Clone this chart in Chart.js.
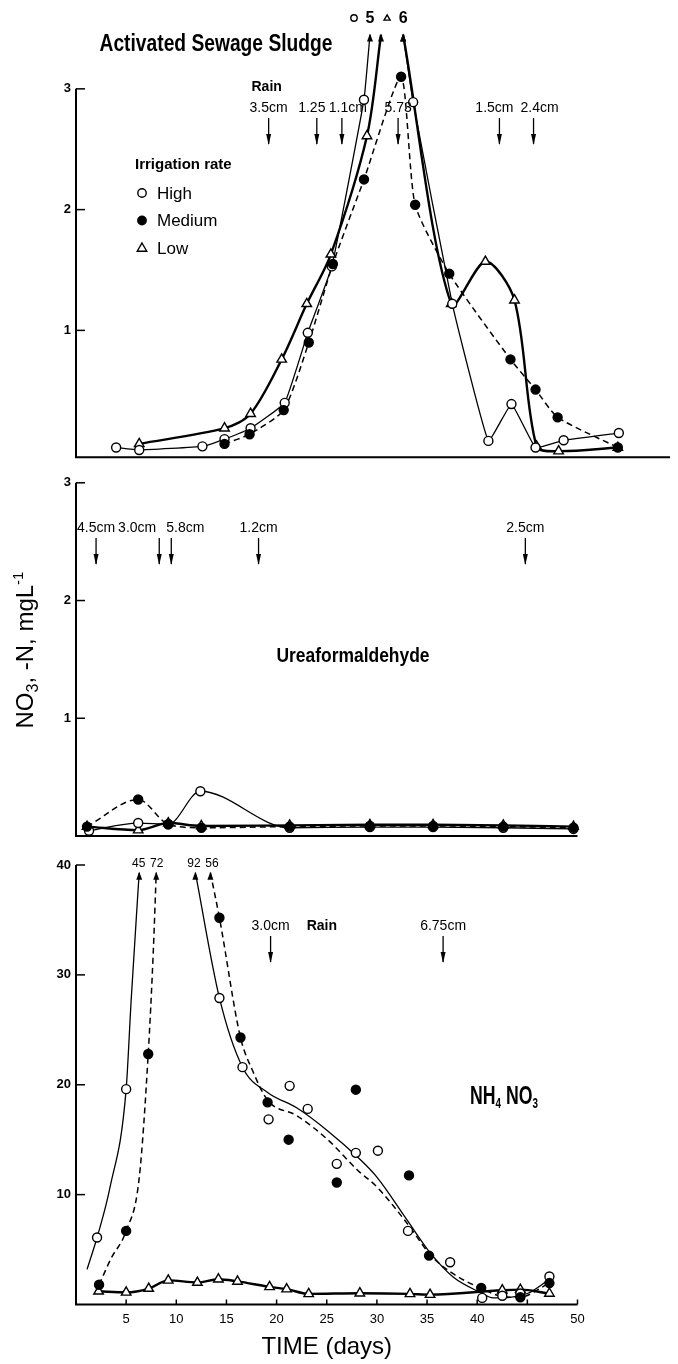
<!DOCTYPE html>
<html>
<head>
<meta charset="utf-8">
<title>NO3-N in leachate</title>
<script src="https://cdn.jsdelivr.net/npm/chart.js@4.4.1/dist/chart.umd.min.js"></script>
<style>
  html, body { margin: 0; padding: 0; background: #fff; }
  #page { position: relative; width: 678px; height: 1364px; overflow: hidden; }
  #page canvas { position: absolute; left: 0; }
</style>
</head>
<body>
<div id="page">
  <canvas id="sludge" width="678" height="470" style="top:0px"></canvas>
  <canvas id="urea" width="678" height="380" style="top:470px"></canvas>
  <canvas id="nitrate" width="678" height="514" style="top:850px"></canvas>
</div>
<script>
// ---- Activated sewage sludge (top panel) ----
var sludgeHighDays = [4.0, 6.3, 12.6, 14.8, 17.4, 20.8, 23.1, 25.5, 28.7, 29.3, 32.6, 33.6, 37.5, 41.1, 43.4, 45.8, 48.6, 54.1];
var sludgeHigh     = [0.03, 0.01, 0.04, 0.10, 0.19, 0.40, 0.98, 1.53, 2.91, 5, 5, 2.89, 1.22, 0.085, 0.39, 0.03, 0.09, 0.15];
var sludgeMedDays  = [14.8, 17.3, 20.7, 23.2, 25.6, 28.7, 32.4, 33.8, 37.2, 43.3, 45.8, 48.0, 54.0];
var sludgeMed      = [0.06, 0.14, 0.34, 0.90, 1.55, 2.25, 3.10, 2.04, 1.47, 0.76, 0.51, 0.28, 0.03];
var sludgeLowDays  = [6.3, 14.8, 17.4, 20.5, 23.0, 25.4, 29.0, 30.4, 32.6, 37.4, 40.8, 43.7, 45.9, 48.1, 54.0];
var sludgeLow      = [0.06, 0.19, 0.31, 0.76, 1.22, 1.63, 2.61, 6, 6, 1.22, 1.57, 1.25, 0.04, 0.0, 0.03];
var sludgeRainDays   = [19.2, 24.0, 26.5, 32.1, 42.2, 45.6];
var sludgeRainLabels = ['3.5cm', '1.25', '1.1cm', '5.73', '1.5cm', '2.4cm'];
var sludgeTicks = [1, 2, 3];

// ---- Ureaformaldehyde (middle panel) ----
var ureaHighDays = [1.3, 6.2, 9.2, 12.4, 21.3, 29.3, 35.6, 42.6, 49.6];
var ureaHigh     = [0.045, 0.11, 0.10, 0.38, 0.07, 0.075, 0.075, 0.07, 0.06];
var ureaMedDays  = [1.1, 6.2, 9.2, 12.5, 21.3, 29.3, 35.6, 42.6, 49.6];
var ureaMed      = [0.08, 0.31, 0.10, 0.07, 0.08, 0.085, 0.085, 0.08, 0.07];
var ureaLowDays  = [1.1, 6.2, 9.2, 12.5, 21.3, 29.3, 35.6, 42.6, 49.6];
var ureaLow      = [0.08, 0.05, 0.11, 0.085, 0.09, 0.095, 0.095, 0.09, 0.08];
var ureaRainDays   = [2.0, 8.3, 9.5, 18.2, 44.8];
var ureaRainLabels = ['4.5cm', '3.0cm', '5.8cm', '1.2cm', '2.5cm'];
var ureaTicks = [1, 2, 3];

// ---- NH4NO3 (bottom panel): measured points and fitted curves ----
var nhHighPtDays = [2.1, 5.0, 14.3, 16.6, 19.2, 21.3, 23.1, 26.0, 27.9, 30.1, 33.1, 37.3, 40.5, 42.5, 44.3, 47.2];
var nhHighPts    = [6.1, 19.6, 27.9, 21.6, 16.85, 19.9, 17.8, 12.8, 13.8, 14.0, 6.7, 3.85, 0.6, 0.8, 1.0, 2.55];
var nhHighCurveDays = [1.1, 2.1, 3.4, 5.0, 5.5, 6.3, 11.9, 14.3, 16.6, 19.1, 22.0, 25.1, 28.1, 30.0, 33.0, 35.4, 37.6, 40.3, 41.6, 45.0, 47.2];
var nhHighCurve     = [3.2, 6.1, 10.7, 19.6, 27.7, 45, 92, 27.9, 21.6, 19.3, 17.9, 15.8, 13.4, 11.6, 7.7, 4.6, 2.5, 1.1, 0.6, 1.0, 2.3];
var nhMedPtDays = [2.3, 5.0, 7.2, 14.3, 16.4, 19.1, 21.2, 26.0, 27.9, 33.2, 35.2, 40.4, 44.3, 47.2];
var nhMedPts    = [1.8, 6.7, 22.8, 35.2, 24.3, 18.4, 15.0, 11.1, 19.55, 11.75, 4.45, 1.5, 0.66, 1.95];
var nhMedCurveDays = [2.3, 3.5, 5.0, 6.3, 7.2, 7.7, 8.0, 13.4, 14.3, 16.4, 17.6, 19.1, 22.0, 25.1, 28.1, 30.0, 33.0, 35.4, 37.6, 40.3, 42.2, 44.2, 47.2];
var nhMedCurve     = [1.8, 4.2, 6.7, 11.5, 22.8, 32, 72, 56, 35.2, 24.3, 21.3, 18.6, 17.2, 15.0, 12.2, 10.7, 7.4, 4.45, 2.8, 1.5, 0.8, 0.66, 1.95];
var nhLowDays = [2.25, 5.0, 7.25, 9.2, 12.1, 14.2, 16.1, 19.3, 21.0, 23.2, 28.3, 33.3, 35.3, 42.5, 44.3, 47.2];
var nhLow     = [1.2, 1.1, 1.45, 2.2, 2.0, 2.3, 2.1, 1.6, 1.4, 0.97, 1.03, 0.97, 0.9, 1.3, 1.35, 1.0];
var nhRainDays   = [19.4, 36.6];
var nhRainLabels = ['3.0cm', '6.75cm'];
var nhTicks   = [10, 20, 30, 40];
var timeTicks = [5, 10, 15, 20, 25, 30, 35, 40, 45, 50];

var FONT = '"Liberation Sans", "Helvetica Neue", Arial, sans-serif';
Chart.defaults.font.family = FONT;
Chart.defaults.color = '#000';

var STYLE = {
  high: { shape: 'circle', fill: '#fff', r: 4.5, w: 1.3, dash: [] },
  med:  { shape: 'circle', fill: '#000', r: 4.5, w: 1.5, dash: [6, 4] },
  low:  { shape: 'triangle', fill: '#fff', r: 5.5, w: 2.4, dash: [] }
};

function toPoints(days, vals) {
  return days.map(function (d, i) { return { x: d, y: vals[i] }; });
}

// off-scale values end in an arrow at the clamp level; two in a row leave a gap
function clampLine(days, vals, clamp) {
  var out = [];
  for (var i = 0; i < days.length; i++) {
    var off = vals[i] > clamp;
    if (off && i > 0 && vals[i - 1] > clamp) out.push({ x: (days[i - 1] + days[i]) / 2, y: null });
    out.push({ x: days[i], y: off ? clamp : vals[i] });
  }
  return out;
}

function peakMarks(days, vals, clamp, at) {
  var res = [];
  for (var i = 0; i < days.length; i++) {
    if (vals[i] <= clamp) continue;
    var j = i;
    while (j + 1 < days.length && vals[j + 1] > clamp && vals[j + 1] === vals[i]) j++;
    res.push({ label: String(vals[i]), day: at === 'last' ? days[j] : days[i], tips: days.slice(i, j + 1) });
    i = j;
  }
  return res;
}

function buildDatasets(series, clamp) {
  var marks = [], lines = [];
  series.forEach(function (s) {
    var st = s.style;
    lines.push({
      data: clampLine(s.lineDays || s.days, s.lineVals || s.vals, clamp),
      borderColor: '#000', borderWidth: st.w, borderDash: st.dash,
      pointRadius: 0, pointHoverRadius: 0, fill: false, spanGaps: false,
      tension: s.tension, cubicInterpolationMode: s.mono ? 'monotone' : 'default'
    });
    marks.push({
      data: toPoints(s.days, s.vals).filter(function (p) { return p.y <= clamp; }),
      showLine: false, pointStyle: st.shape, pointRadius: st.r, pointHoverRadius: st.r,
      pointBorderWidth: 1.4, pointBorderColor: '#000', pointBackgroundColor: st.fill, clip: false
    });
  });
  return marks.concat(lines);
}

function glyph(ctx, st, x, y, r) {
  ctx.beginPath();
  if (st.shape === 'triangle') {
    ctx.moveTo(x, y - r); ctx.lineTo(x + r * 0.95, y + r * 0.65); ctx.lineTo(x - r * 0.95, y + r * 0.65); ctx.closePath();
  } else {
    ctx.arc(x, y, r, 0, Math.PI * 2);
  }
  ctx.fillStyle = st.fill; ctx.fill();
  ctx.lineWidth = 1.4; ctx.strokeStyle = '#000'; ctx.stroke();
  ctx.fillStyle = '#000';
}

// text pieces (with sub/superscripts), squeezed to a width like the condensed original
function drawParts(ctx, parts, x, y, width, align) {
  var total = 0;
  parts.forEach(function (p) { ctx.font = p.font; p.w = ctx.measureText(p.t).width; total += p.w; });
  var k = width ? Math.min(1, width / total) : 1;
  ctx.save();
  ctx.translate(x, y);
  ctx.scale(k, 1);
  ctx.textAlign = 'left';
  ctx.textBaseline = 'alphabetic';
  var cx = align === 'center' ? -total / 2 : 0;
  parts.forEach(function (p) { ctx.font = p.font; ctx.fillText(p.t, cx, p.dy || 0); cx += p.w; });
  ctx.restore();
}

function drawRain(ctx, xs, p) {
  var y = p.rainY;
  ctx.font = '14px ' + FONT;
  ctx.textBaseline = 'middle';
  var firstRight = 0;
  p.rainDays.forEach(function (d, i) {
    var x = xs.getPixelForValue(d);
    var prev = i > 0 ? d - p.rainDays[i - 1] : 99;
    var next = i < p.rainDays.length - 1 ? p.rainDays[i + 1] - d : 99;
    var label = p.rainLabels[i];
    var w = ctx.measureText(label).width;
    var cx = x;
    if (next < 1.5) cx = x - 3 - w / 2;
    else if (prev < 1.5) cx = x - 5 + w / 2;
    else if (next < 4) cx = x - 5;
    else if (prev < 4) cx = x + 6;
    ctx.textAlign = 'center';
    ctx.fillText(label, cx, y);
    if (i === 0) firstRight = cx + w / 2;
    ctx.lineWidth = 1.3;
    ctx.beginPath(); ctx.moveTo(x, y + 10); ctx.lineTo(x, y + 36); ctx.stroke();
    ctx.beginPath(); ctx.moveTo(x - 2.5, y + 26); ctx.lineTo(x + 2.5, y + 26); ctx.lineTo(x, y + 37); ctx.closePath(); ctx.fill();
  });
  if (p.rainWord) {
    ctx.font = 'bold 14px ' + FONT;
    var x0 = xs.getPixelForValue(p.rainDays[0]);
    if (p.rainWord === 'above') { ctx.textAlign = 'center'; ctx.fillText('Rain', x0 - 2, y - 21); }
    else { ctx.textAlign = 'left'; ctx.fillText('Rain', firstRight + 17, y); }
  }
}

function panelNotes(p) {
  return {
    id: 'notes',
    afterDraw: function (chart) {
      var ctx = chart.ctx, a = chart.chartArea, xs = chart.scales.x, ys = chart.scales.y;
      ctx.save();
      ctx.fillStyle = '#000';
      ctx.strokeStyle = '#000';
      // frame: left axis up to the top tick, bottom axis
      ctx.lineWidth = 2;
      ctx.beginPath();
      ctx.moveTo(a.left, ys.getPixelForValue(p.yTicks[p.yTicks.length - 1]));
      ctx.lineTo(a.left, a.bottom);
      ctx.lineTo(a.right, a.bottom);
      ctx.stroke();
      ctx.lineWidth = 1.5;
      p.yTicks.forEach(function (v) {
        var y = ys.getPixelForValue(v);
        ctx.beginPath(); ctx.moveTo(a.left, y); ctx.lineTo(a.left + 9, y); ctx.stroke();
      });
      if (p.xTicks) {
        p.xTicks.forEach(function (v) {
          var x = xs.getPixelForValue(v);
          ctx.beginPath(); ctx.moveTo(x, a.bottom); ctx.lineTo(x, a.bottom - 5); ctx.stroke();
        });
      }
      // arrows where curves leave the frame, with their values
      var labels = [];
      var ty = ys.getPixelForValue(p.clamp);
      p.series.forEach(function (s) {
        peakMarks(s.lineDays || s.days, s.lineVals || s.vals, p.clamp, s.peakAt).forEach(function (m) {
          m.tips.forEach(function (d) {
            var tx = xs.getPixelForValue(d);
            ctx.beginPath(); ctx.moveTo(tx, ty - 1); ctx.lineTo(tx - 3, ty + 7); ctx.lineTo(tx + 3, ty + 7); ctx.closePath(); ctx.fill();
          });
          labels.push({ text: m.label, x: xs.getPixelForValue(m.day), style: s.style });
        });
      });
      labels.sort(function (u, v) { return u.x - v.x; });
      for (var k = 1; k < labels.length; k++) {
        var gap = labels[k].x - labels[k - 1].x;
        if (gap < 18) { labels[k - 1].x -= (18 - gap) / 2; labels[k].x += (18 - gap) / 2; }
      }
      ctx.textAlign = 'center';
      ctx.textBaseline = 'alphabetic';
      labels.forEach(function (l) {
        if (p.peakGlyph) {
          ctx.font = 'bold 16px ' + FONT;
          ctx.fillText(l.text, l.x, p.peakY);
          glyph(ctx, l.style, l.x - 16, p.peakY - 5, 3.2);
        } else {
          ctx.font = '12px ' + FONT;
          ctx.fillText(l.text, l.x, p.peakY);
        }
      });
      drawRain(ctx, xs, p);
      if (p.extra) p.extra(ctx, chart);
      ctx.restore();
    }
  };
}

function makePanel(canvasId, p) {
  var xOpts = { type: 'linear', min: 0, max: p.xMax, display: false };
  if (p.xTicks) {
    xOpts = {
      type: 'linear', min: 0, max: p.xMax, display: true,
      grid: { display: false, drawTicks: false }, border: { display: false },
      afterBuildTicks: function (s) { s.ticks = p.xTicks.map(function (v) { return { value: v }; }); },
      afterFit: function (s) { s.height = p.xHeight; },
      ticks: { autoSkip: false, maxRotation: 0, padding: 7, color: '#000', font: { size: 13 } },
      title: { display: true, text: 'TIME (days)', color: '#000', font: { size: 24 }, padding: { top: 0, bottom: 2 } }
    };
  }
  return new Chart(document.getElementById(canvasId), {
    type: 'line',
    data: { datasets: buildDatasets(p.series, p.clamp) },
    options: {
      responsive: false, animation: false, events: [], devicePixelRatio: 1,
      layout: { padding: { left: 0, right: p.padRight, top: p.padTop, bottom: p.padBottom } },
      plugins: { legend: { display: false }, tooltip: { enabled: false }, title: { display: false } },
      scales: {
        x: xOpts,
        y: {
          type: 'linear', min: p.yMin, max: p.yMax,
          grid: { display: false, drawTicks: false }, border: { display: false },
          afterFit: function (s) { s.width = 76; },
          afterBuildTicks: function (s) { s.ticks = p.yTicks.map(function (v) { return { value: v }; }); },
          ticks: { padding: 5, color: '#000', font: { size: 13, weight: 'bold' } }
        }
      }
    },
    plugins: [panelNotes(p)]
  });
}

// top panel
makePanel('sludge', {
  series: [
    { days: sludgeMedDays, vals: sludgeMed, style: STYLE.med, tension: 0.2 },
    { days: sludgeHighDays, vals: sludgeHigh, style: STYLE.high, tension: 0.1, peakAt: 'first' },
    { days: sludgeLowDays, vals: sludgeLow, style: STYLE.low, tension: 0.3, peakAt: 'last' }
  ],
  xMax: 59.2, yMin: -0.05, yMax: 3.45, clamp: 3.45, yTicks: sludgeTicks,
  padTop: 34.5, padBottom: 12, padRight: 8,
  rainDays: sludgeRainDays, rainLabels: sludgeRainLabels, rainY: 108, rainWord: 'above',
  peakGlyph: true, peakY: 23,
  extra: function (ctx) {
    ctx.fillStyle = '#000';
    drawParts(ctx, [{ t: 'Activated Sewage Sludge', font: 'bold 23px ' + FONT }], 216, 51, 233, 'center');
    ctx.textAlign = 'left';
    ctx.textBaseline = 'middle';
    ctx.font = 'bold 15px ' + FONT;
    ctx.fillText('Irrigation rate', 135, 165);
    var items = [['High', STYLE.high], ['Medium', STYLE.med], ['Low', STYLE.low]];
    items.forEach(function (it, i) {
      var y = 193 + i * 27.5;
      glyph(ctx, it[1], 142, y, it[1].shape === 'triangle' ? 5 : 4.2);
      ctx.font = '17px ' + FONT;
      ctx.textAlign = 'left';
      ctx.textBaseline = 'middle';
      ctx.fillText(it[0], 157, y + 1);
    });
  }
});

// middle panel
makePanel('urea', {
  series: [
    { days: ureaMedDays, vals: ureaMed, style: STYLE.med, tension: 0.4, mono: true },
    { days: ureaHighDays, vals: ureaHigh, style: STYLE.high, tension: 0.4, mono: true },
    { days: ureaLowDays, vals: ureaLow, style: STYLE.low, tension: 0.4, mono: true }
  ],
  xMax: 50, yMin: 0, yMax: 3, clamp: 3, yTicks: ureaTicks,
  padTop: 12, padBottom: 14, padRight: 100.5,
  rainDays: ureaRainDays, rainLabels: ureaRainLabels, rainY: 58,
  extra: function (ctx) {
    ctx.fillStyle = '#000';
    drawParts(ctx, [{ t: 'Ureaformaldehyde', font: 'bold 21px ' + FONT }], 353, 192, 153, 'center');
    // shared y-axis title, rotated
    ctx.save();
    ctx.translate(33, 180);
    ctx.rotate(-Math.PI / 2);
    drawParts(ctx, [
      { t: 'NO', font: '24px ' + FONT },
      { t: '3', font: '16px ' + FONT, dy: 5 },
      { t: ', -N, mgL', font: '24px ' + FONT },
      { t: '-1', font: '15px ' + FONT, dy: -10 }
    ], 0, 0, 0, 'center');
    ctx.restore();
  }
});

// bottom panel
makePanel('nitrate', {
  series: [
    { days: nhMedPtDays, vals: nhMedPts, lineDays: nhMedCurveDays, lineVals: nhMedCurve, style: STYLE.med, tension: 0.4, mono: true },
    { days: nhHighPtDays, vals: nhHighPts, lineDays: nhHighCurveDays, lineVals: nhHighCurve, style: STYLE.high, tension: 0.4, mono: true },
    { days: nhLowDays, vals: nhLow, style: STYLE.low, tension: 0.4, mono: true }
  ],
  xMax: 50, yMin: 0, yMax: 40, clamp: 39.3, yTicks: nhTicks, xTicks: timeTicks, xHeight: 59.5,
  padTop: 15, padBottom: 0, padRight: 100.5,
  rainDays: nhRainDays, rainLabels: nhRainLabels, rainY: 76, rainWord: 'right',
  peakY: 17,
  extra: function (ctx) {
    ctx.fillStyle = '#000';
    drawParts(ctx, [
      { t: 'NH', font: 'bold 25px ' + FONT },
      { t: '4', font: 'bold 14px ' + FONT, dy: 4 },
      { t: ' NO', font: 'bold 25px ' + FONT },
      { t: '3', font: 'bold 14px ' + FONT, dy: 4 }
    ], 470, 254, 68, 'left');
  }
});
</script>
</body>
</html>
